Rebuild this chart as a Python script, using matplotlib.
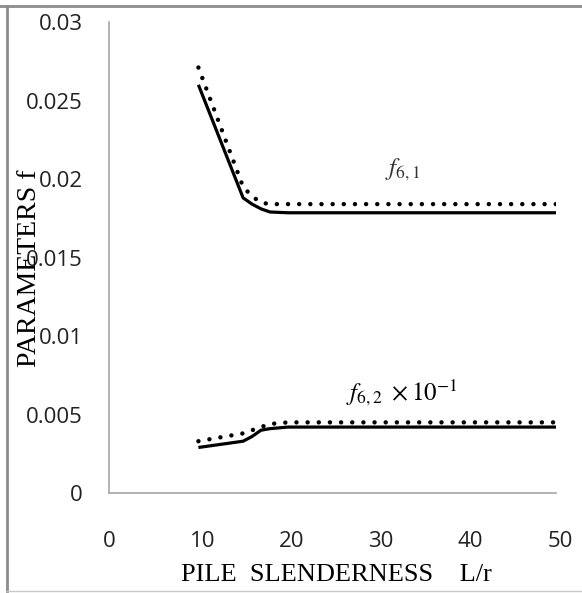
import numpy as np
import matplotlib.pyplot as plt
from matplotlib.lines import Line2D
from matplotlib.transforms import ScaledTranslation

plt.rcParams['mathtext.fontset'] = 'stix'

# slenderness ratio L/r
slend = [10, 15, 16, 17, 18, 20, 25, 30, 35, 40, 45, 50]

# f6,1 (solid and dotted)
f61_solid = [0.0260, 0.0188, 0.0184, 0.0181, 0.0179, 0.01785, 0.01785, 0.01785, 0.01785, 0.01785, 0.01785, 0.01785]
f61_dot = [0.0271, 0.0195, 0.0189, 0.0185, 0.0184, 0.0184, 0.0184, 0.0184, 0.0184, 0.0184, 0.0184, 0.0184]

# f6,2 x 10^-1 (solid and dotted)
f62_solid = [0.0029, 0.0033, 0.0036, 0.0040, 0.0041, 0.0042, 0.0042, 0.0042, 0.0042, 0.0042, 0.0042, 0.0042]
f62_dot = [0.0033, 0.0038, 0.0040, 0.0042, 0.0044, 0.0045, 0.0045, 0.0045, 0.0045, 0.0045, 0.0045, 0.0045]

xticks = [0, 10, 20, 30, 40, 50]
yticks = [0, 0.005, 0.01, 0.015, 0.02, 0.025, 0.03]
ytick_labels = ['0', '0.005', '0.01', '0.015', '0.02', '0.025', '0.03']

fig = plt.figure(figsize=(5.82, 5.93), dpi=100)
ax = fig.add_axes([0.1873, 0.1686, 0.7680, 0.7943])

dotstyle = (0, (0.01, 2.5))
ax.plot(slend, f61_solid, color='black', lw=2.3, solid_capstyle='butt')
ax.plot(slend, f61_dot, color='black', lw=3.2, linestyle=dotstyle, dash_capstyle='round')
ax.plot(slend, f62_solid, color='black', lw=2.3, solid_capstyle='butt')
ax.plot(slend, f62_dot, color='black', lw=3.2, linestyle=dotstyle, dash_capstyle='round')

ax.text(32.9, 0.0206, r'$f_{6,1}$', fontsize=18, ha='center', va='center', color='#333333')
ax.text(32.8, 0.0064, r'$f_{6,2}\ \times 10^{-1}$', fontsize=18, ha='center', va='center')

ax.set_xlim(0, 50)
ax.set_ylim(0, 0.03)
ax.set_xticks(xticks)
ax.set_yticks(yticks)
ax.set_yticklabels(ytick_labels)
ax.tick_params(length=0, labelsize=16)
ax.tick_params(axis='y', pad=19)
ax.tick_params(axis='x', pad=27)
shift = ScaledTranslation(4 / 100, 0, fig.dpi_scale_trans)
for lab in ax.get_xticklabels()[1:]:
    lab.set_transform(lab.get_transform() + shift)
for lab in ax.get_xticklabels() + ax.get_yticklabels():
    lab.set_fontfamily('Open Sans')
    lab.set_color('#222222')

for s in ['top', 'right']:
    ax.spines[s].set_visible(False)
for s in ['left', 'bottom']:
    ax.spines[s].set_color('#a6a6a6')
    ax.spines[s].set_linewidth(1.2)

fig.text(0.578, 1 - 575 / 593, 'PILE  SLENDERNESS    L/r', fontfamily='Liberation Serif',
         fontsize=19, ha='center', va='center')
fig.text(0.050, 1 - 268 / 593, 'PARAMETERS f', rotation=90, fontfamily='Liberation Serif',
         fontsize=20, ha='center', va='center')

# outer frame
fig.add_artist(Line2D([0, 1], [0.990, 0.990], color='#8c8c8c', lw=2))
fig.add_artist(Line2D([0.012, 0.012], [0.003, 0.990], color='#8c8c8c', lw=2))
fig.add_artist(Line2D([0.012, 1], [0.003, 0.003], color='#c8c8c8', lw=1))

fig.savefig('out.png')
